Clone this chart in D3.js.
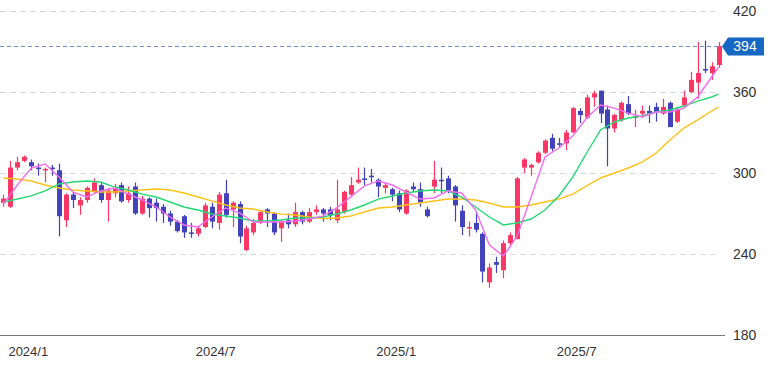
<!DOCTYPE html>
<meta charset="utf-8">
<style>
body { margin: 0; background: #fff; }
svg { display: block; font-family: "Liberation Sans", Arial, sans-serif; }
.grid line { stroke: #d9d9d9; stroke-dasharray: 6,4; }
.axis--y text { font-size: 14px; fill: #333; }
.axis--x text { font-size: 13px; fill: #333; }
.axis path, .axis line { display: none; }
.ma { fill: none; stroke-width: 1.4; }
</style>
<body>
<svg width="774" height="365"></svg>
<script src="https://d3js.org/d3.v7.min.js"></script>
<script>
// weekly candles (open / high / low / close)
var opens  = [278,275,304,309,308,304,302,304,302,265,284,276,280,286,291,280,285,291,280,290,
              270,281,278,275,270,264,268,256,255,260,275,263,285,273,277,243,256,263,273,270,
              259,265,262,271,264,271,273,273,265,271,284,293,296,298,295,289,288,285,270,290,
              288,273,290,295,296,290,272,259,263,255,219,234,228,248,251,304,304,308,315,326,
              322,322,330,346,341,356,361,347,333,339,351,341,344,346,349,344,352,338,350,360,
              367,377,374,380];
var highs  = [284,309,312,313,310,307,304,306,307,285,286,282,290,296,293,289,292,293,290,293,
              283,282,281,277,272,265,269,263,261,278,278,286,295,279,279,261,266,272,274,271,
              265,270,278,272,274,276,274,275,295,287,297,304,304,303,296,293,289,287,288,293,
              293,275,309,304,298,291,276,264,271,256,233,238,250,256,297,311,307,316,325,329,
              326,332,349,348,358,361,361,350,344,353,357,347,350,350,352,355,353,349,361,375,
              397,398,382,397];
var lows   = [275,274,302,308,302,298,293,298,253,260,274,269,278,285,278,264,282,278,278,269,
              269,267,264,263,261,256,252,252,253,259,259,258,267,260,248,242,254,262,260,254,
              249,259,260,262,263,269,264,265,263,270,282,292,291,293,282,285,279,271,269,286,
              275,267,285,285,285,264,254,253,256,219,215,226,222,245,251,300,298,307,314,316,
              319,317,330,337,340,349,337,305,330,338,343,334,341,337,338,343,334,337,349,359,
              355,374,369,378];
var closes = [281,304,308,312,305,303,303,303,268,284,280,280,289,293,280,287,289,279,285,270,
              281,274,274,270,264,257,256,255,259,276,264,284,269,278,253,259,263,271,270,256,
              264,262,271,264,271,273,270,269,273,286,291,295,295,297,290,291,284,273,287,288,
              278,268,295,294,287,276,260,260,258,227,230,232,248,254,296,310,306,315,324,318,
              321,330,348,343,356,359,344,333,343,352,344,342,346,344,345,349,334,347,356,369,
              374,376,379,394];

// moving averages read every other week (last point = last week)
var maWeeks = d3.range(0, 104, 2).concat([103]);
var maShort = [277.0,291.1,303.7,306.7,297.0,285.9,282.2,286.7,288.9,284.4,280.0,274.8,267.4,261.5,
               260.0,267.4,274.1,270.4,263.7,263.7,263.7,264.4,265.9,268.1,274.1,282.2,290.4,294.1,
               291.1,285.9,280.7,281.5,286.7,285.2,272.6,246.7,238.5,253.3,282.2,311.9,318.5,327.4,
               340.7,350.4,348.1,344.4,341.5,345.2,345.2,348.1,356.3,371.1,378.5];
var maMid   = [278.5,280.7,283.0,286.7,291.9,293.3,294.1,293.3,289.6,287.4,284.4,282.2,278.5,274.8,
               272.6,269.6,268.1,266.7,264.4,264.4,265.2,266.7,266.7,267.4,269.6,272.6,276.3,280.7,
               283.0,285.2,286.7,287.4,286.7,282.2,274.8,267.4,261.5,263.0,265.9,272.6,283.0,297.0,
               314.8,331.9,337.8,340.7,342.2,345.2,346.7,349.6,353.3,356.3,358.5];
var maLong  = [296.3,295.6,294.1,291.1,288.9,287.4,286.7,285.9,285.9,286.7,287.4,288.1,287.4,285.2,
               282.2,279.3,276.3,274.1,273.3,271.1,269.5,268.9,267.4,266.3,266.7,268.1,271.1,274.1,
               274.8,276.3,277.8,279.3,280.7,280.7,280.0,277.8,274.8,274.8,276.3,278.5,280.7,284.4,
               290.4,296.3,300.0,303.7,308.1,314.8,324.4,333.3,339.3,345.9,348.9];

var yTicks = [180, 240, 300, 360, 420];
var xTickWeeks = [1, 28, 54, 80];
var xTickLabels = ["2024/1", "2024/7", "2025/1", "2025/7"];
var lastPrice = 394;

var svg = d3.select("svg"),
    plotW = 722,
    plotTop = 11, plotBottom = 335;

var n = closes.length;
var x = d3.scaleBand().domain(d3.range(n)).range([0, plotW]),
    y = d3.scaleLinear().domain([180, 420]).range([plotBottom, plotTop]);
var cx = function(i) { return x(i) + x.bandwidth() / 2; };

// dashed grid
svg.append("g")
    .attr("class", "grid")
  .selectAll("line")
  .data(yTicks.filter(function(d) { return d > 180; }))
  .enter().append("line")
    .attr("x1", 0).attr("x2", plotW - 4)
    .attr("y1", function(d) { return Math.round(y(d)) + 0.5; })
    .attr("y2", function(d) { return Math.round(y(d)) + 0.5; });

// bottom line
svg.append("line")
    .attr("x1", 0).attr("x2", plotW + 3)
    .attr("y1", plotBottom + 0.5).attr("y2", plotBottom + 0.5)
    .attr("stroke", "#777");

// y labels
svg.append("g")
    .attr("class", "axis axis--y")
    .attr("transform", "translate(" + plotW + ",0)")
    .call(d3.axisRight(y).tickValues(yTicks).tickSize(0).tickPadding(11));

// x labels
svg.append("g")
    .attr("class", "axis axis--x")
  .selectAll("text")
  .data(xTickWeeks)
  .enter().append("text")
    .attr("x", function(d) { return cx(d) - 2; })
    .attr("y", 356)
    .text(function(d, i) { return xTickLabels[i]; });

// candles
var bodyW = 5;
var candle = svg.append("g").selectAll("g")
  .data(d3.range(n))
  .enter().append("g")
    .attr("fill", function(i) { return closes[i] >= opens[i] ? "#fb3766" : "#4242bb"; })
    .attr("stroke", function(i) { return closes[i] >= opens[i] ? "#fb3766" : "#4242bb"; });

candle.append("line")
    .attr("x1", function(i) { return Math.round(cx(i)) + 0.5; })
    .attr("x2", function(i) { return Math.round(cx(i)) + 0.5; })
    .attr("y1", function(i) { return y(highs[i]); })
    .attr("y2", function(i) { return y(lows[i]); })
    .attr("stroke-width", 1.2);

candle.append("rect")
    .attr("x", function(i) { return Math.round(cx(i)) + 0.5 - bodyW / 2; })
    .attr("width", bodyW)
    .attr("y", function(i) { return y(Math.max(opens[i], closes[i])); })
    .attr("height", function(i) { return Math.max(1.5, Math.abs(y(opens[i]) - y(closes[i]))); })
    .attr("stroke", "none");

// moving averages
var line = d3.line()
    .x(function(d) { return cx(d[0]); })
    .y(function(d) { return y(d[1]); });

[[maLong, "#ffc21a"], [maMid, "#25d972"], [maShort, "#f46cf0"]].forEach(function(m) {
  svg.append("path")
      .datum(maWeeks.map(function(w, k) { return [w, m[0][k]]; }))
      .attr("class", "ma")
      .attr("stroke", m[1])
      .attr("d", line);
});

// last price marker
var py = Math.round(y(lastPrice)) + 0.5;
svg.append("line")
    .attr("x1", 0).attr("x2", plotW)
    .attr("y1", py).attr("y2", py)
    .attr("stroke", "#6f95cf")
    .attr("stroke-dasharray", "4,3");

svg.append("path")
    .attr("d", "M" + plotW + "," + py + "L" + (plotW + 6) + "," + (py - 9) + "L764," + (py - 9) +
               "L764," + (py + 9) + "L" + (plotW + 6) + "," + (py + 9) + "Z")
    .attr("fill", "#1767c4");

svg.append("text")
    .attr("x", 745)
    .attr("y", py)
    .attr("dy", "0.35em")
    .attr("text-anchor", "middle")
    .style("font-size", "14px")
    .attr("fill", "#fff")
    .text(lastPrice);
</script>
</body>
